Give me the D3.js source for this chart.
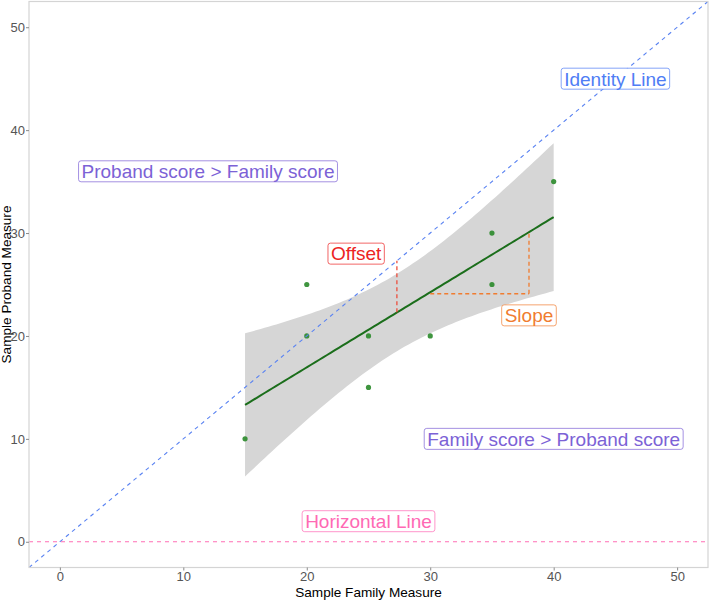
<!DOCTYPE html>
<html>
<head>
<meta charset="utf-8">
<script src="https://cdn.jsdelivr.net/npm/d3@7"></script>
<style>
  body { margin: 0; background: #fff; }
  text { font-family: "Liberation Sans", Arial, sans-serif; }
</style>
</head>
<body>
<script>
// sample points
const familyX = [15, 20, 20, 25, 25, 30, 35, 35, 40];
const probandY = [10, 25, 20, 20, 15, 20, 30, 25, 35];

const xTicks = [0, 10, 20, 30, 40, 50];
const yTicks = [0, 10, 20, 30, 40, 50];

// annotations
const labelText = ["Identity Line", "Proband score > Family score", "Offset", "Slope", "Family score > Proband score", "Horizontal Line"];
const labelX = [45, 12, 24, 38, 40, 25];
const labelY = [45, 36, 28, 22, 10, 2];
const labelColor = ["#4f7df5", "#7c62d6", "#ec2323", "#f07c30", "#7c62d6", "#ff69b4"];

// dashed helper segments [x1, y1, x2, y2]
const offsetSeg = [[27.3, 22.3, 27.3, 27.3]];
const slopeSeg = [[30, 24.1, 38, 24.1], [38, 24.1, 38, 30.1]];

const width = 709, height = 602;
const svg = d3.select("body").append("svg")
    .attr("width", width)
    .attr("height", height);

const x = d3.scaleLinear().domain([-2.5, 52.5]).range([29, 708]);
const y = d3.scaleLinear().domain([-2.5, 52.5]).range([567.5, 1.5]);

// linear fit + 95% CI, like geom_smooth(method = "lm")
const n = familyX.length;
const mx = d3.mean(familyX), my = d3.mean(probandY);
let sxx = 0, sxy = 0;
familyX.forEach((v, i) => { sxx += (v - mx) ** 2; sxy += (v - mx) * (probandY[i] - my); });
const b = sxy / sxx, a = my - b * mx;
let rss = 0;
familyX.forEach((v, i) => { rss += (probandY[i] - (a + b * v)) ** 2; });
const s = Math.sqrt(rss / (n - 2));
const tCrit = 2.364624; // t(0.975, df = 7)
const fitX = d3.range(80).map(i => 15 + (40 - 15) * i / 79);
const fit = fitX.map(v => {
  const se = s * Math.sqrt(1 / n + (v - mx) ** 2 / sxx);
  const f = a + b * v;
  return { x: v, y: f, lo: f - tCrit * se, hi: f + tCrit * se };
});

svg.append("defs").append("clipPath").attr("id", "panel")
  .append("rect").attr("x", 29).attr("y", 1.5).attr("width", 679).attr("height", 566);

const plot = svg.append("g").attr("clip-path", "url(#panel)");

plot.append("path")
    .datum(fit)
    .attr("fill", "#d6d6d6")
    .attr("d", d3.area().x(d => x(d.x)).y0(d => y(d.lo)).y1(d => y(d.hi)));

plot.append("path")
    .datum(fit)
    .attr("fill", "none")
    .attr("stroke", "#1b6e1b")
    .attr("stroke-width", 2)
    .attr("d", d3.line().x(d => x(d.x)).y(d => y(d.y)));

plot.selectAll(".pt")
    .data(familyX)
    .enter().append("circle")
    .attr("class", "pt")
    .attr("cx", d => x(d))
    .attr("cy", (d, i) => y(probandY[i]))
    .attr("r", 2.6)
    .attr("fill", "#2a8a2a")
    .attr("opacity", 0.9);

// identity line
plot.append("line")
    .attr("x1", x(-2.5)).attr("y1", y(-2.5))
    .attr("x2", x(52.5)).attr("y2", y(52.5))
    .attr("stroke", "#5a83f2")
    .attr("stroke-width", 1.1)
    .attr("stroke-dasharray", "4,4");

// horizontal line
plot.append("line")
    .attr("x1", x(-2.5)).attr("y1", y(0))
    .attr("x2", x(52.5)).attr("y2", y(0))
    .attr("stroke", "#ff6fb5")
    .attr("stroke-width", 1.2)
    .attr("stroke-dasharray", "4,4");

function segs(data, color) {
  plot.append("g").selectAll("line")
    .data(data)
    .enter().append("line")
    .attr("x1", d => x(d[0])).attr("y1", d => y(d[1]))
    .attr("x2", d => x(d[2])).attr("y2", d => y(d[3]))
    .attr("stroke", color)
    .attr("stroke-width", 1.3)
    .attr("stroke-dasharray", "4,3");
}
segs(offsetSeg, "#ec4f3f");
segs(slopeSeg, "#f07c30");

// panel border
svg.append("rect")
    .attr("x", 29).attr("y", 1.5).attr("width", 679).attr("height", 566)
    .attr("fill", "none")
    .attr("stroke", "#d4d4d4")
    .attr("stroke-width", 1.2);

// axes
const xAxis = svg.append("g")
    .attr("transform", "translate(0,567.5)")
    .call(d3.axisBottom(x).tickValues(xTicks).tickSize(3).tickPadding(1.5));
const yAxis = svg.append("g")
    .attr("transform", "translate(29,0)")
    .call(d3.axisLeft(y).tickValues(yTicks).tickSize(3).tickPadding(1));
[xAxis, yAxis].forEach(g => {
  g.select(".domain").remove();
  g.selectAll(".tick line").attr("stroke", "#8a8a8a");
  g.selectAll(".tick text").attr("fill", "#555").attr("font-size", 13)
    .attr("font-family", "Liberation Sans, Arial, sans-serif");
});

svg.append("text")
    .attr("x", 368.5).attr("y", 597)
    .attr("text-anchor", "middle")
    .attr("font-size", 13.6)
    .attr("fill", "#000")
    .text("Sample Family Measure");

svg.append("text")
    .attr("transform", "translate(11,284.5) rotate(-90)")
    .attr("text-anchor", "middle")
    .attr("font-size", 13.6)
    .attr("fill", "#000")
    .text("Sample Proband Measure");

// boxed labels
const labels = svg.append("g").selectAll("g")
    .data(labelText)
    .enter().append("g")
    .attr("transform", (d, i) => `translate(${x(labelX[i])},${y(labelY[i])})`);

labels.append("rect")
    .attr("fill", "white")
    .attr("stroke", (d, i) => labelColor[i])
    .attr("stroke-width", 0.7)
    .attr("rx", 2.5).attr("ry", 2.5);

labels.append("text")
    .attr("text-anchor", "middle")
    .attr("dy", "0.36em")
    .attr("font-size", 19)
    .attr("fill", (d, i) => labelColor[i])
    .text(d => d)
    .each(function() {
      const w = this.getComputedTextLength();
      d3.select(this.previousSibling)
        .attr("x", -w / 2 - 3)
        .attr("y", -10.5)
        .attr("width", w + 6)
        .attr("height", 21);
    });
</script>
</body>
</html>
